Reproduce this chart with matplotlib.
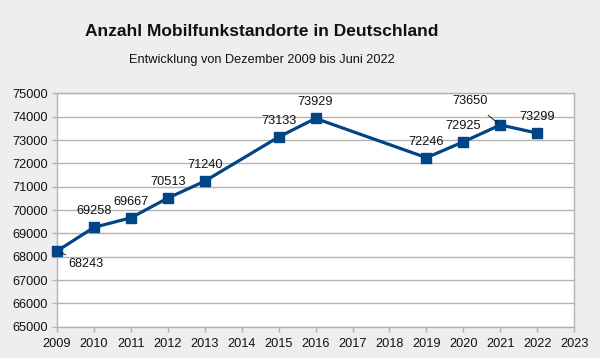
import matplotlib
matplotlib.use("Agg")
import matplotlib.pyplot as plt

years = [2009, 2010, 2011, 2012, 2013, 2015, 2016, 2019, 2020, 2021, 2022]
values = [68243, 69258, 69667, 70513, 71240, 73133, 73929, 72246, 72925, 73650, 73299]
xticks = list(range(2009, 2024))
yticks = list(range(65000, 75001, 1000))
title = "Anzahl Mobilfunkstandorte in Deutschland"
subtitle = "Entwicklung von Dezember 2009 bis Juni 2022"

plt.rcParams['font.family'] = ['Liberation Sans', 'DejaVu Sans']

fig = plt.figure(figsize=(6, 3.58), dpi=100, facecolor='#eeeeee')
ax = fig.add_axes([0.095, 0.0875, 0.862, 0.6515])
ax.set_facecolor('white')

ax.plot(years, values, color='#004586', lw=2.3, marker='s', markersize=6.8,
        markerfacecolor='#004586', markeredgecolor='#004586', zorder=3,
        clip_on=False)

ax.set_xlim(2009, 2023)
ax.set_ylim(65000, 75000)
ax.set_xticks(xticks)
ax.set_xticklabels([str(x) for x in xticks])
ax.set_yticks(yticks)
ax.set_yticklabels([str(y) for y in yticks])
ax.yaxis.grid(True, color='#b3b3b3', lw=1)
ax.set_axisbelow(True)
for s in ax.spines.values():
    s.set_color('#b3b3b3')
    s.set_linewidth(1)
ax.tick_params(axis='both', colors='#b3b3b3', labelcolor='#111111', labelsize=9.2,
               length=3.5, width=1)
ax.tick_params(axis='x', pad=5)
ax.tick_params(axis='y', pad=3)

for x, y in zip(years, values):
    if y == 68243:
        ax.annotate(str(y), (x, y), xytext=(21, -9), textcoords='offset points',
                    ha='center', va='center', fontsize=9.2, color='#111111',
                    arrowprops=dict(arrowstyle='-', color='black', lw=0.6,
                                    shrinkA=0, shrinkB=3))
    elif y == 73650:
        ax.annotate(str(y), (x, y), xytext=(-21.5, 17), textcoords='offset points',
                    ha='center', va='center', fontsize=9.2, color='#111111',
                    arrowprops=dict(arrowstyle='-', color='black', lw=0.6,
                                    shrinkA=6, shrinkB=3))
    else:
        ax.annotate(str(y), (x, y), xytext=(0, 11.5), textcoords='offset points',
                    ha='center', va='center', fontsize=9.2, color='#111111')

fig.text(262/600, 1 - 32/358, title, ha='center', va='center', fontsize=12.5,
         fontweight='bold', color='#111111')
fig.text(262/600, 1 - 60/358, subtitle, ha='center', va='center', fontsize=9.2,
         color='#111111')

fig.savefig('out.png', dpi=100, facecolor=fig.get_facecolor())
